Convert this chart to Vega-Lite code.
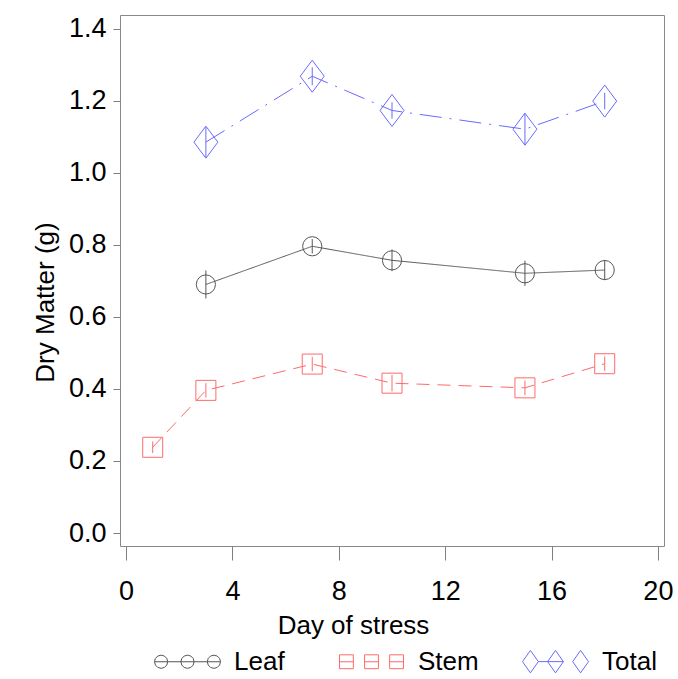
{
  "$schema": "https://vega.github.io/schema/vega-lite/v6.json",
  "width": 544,
  "height": 531,
  "autosize": "none",
  "padding": {"left": 120, "top": 15, "right": 14, "bottom": 133},
  "background": "white",
  "config": {
    "view": {"stroke": "#888888", "strokeWidth": 1},
    "font": "Liberation Sans",
    "axisY": {
      "domain": false,
      "grid": false,
      "tickSize": 7,
      "tickColor": "#808080",
      "labelFontSize": 27,
      "labelColor": "black",
      "labelPadding": 7,
      "titleFontSize": 26,
      "titleFontWeight": "normal",
      "titleColor": "black",
      "titleAngle": 270,
      "titleX": -67,
      "titleY": 287,
      "titleBaseline": "alphabetic",
      "titleAlign": "center"
    }
  },
  "data": {
    "values": [
      {"s": "Leaf", "day": 3, "dm": 0.690, "lo": 0.651, "hi": 0.729},
      {"s": "Leaf", "day": 7, "dm": 0.796, "lo": 0.776, "hi": 0.816},
      {"s": "Leaf", "day": 10, "dm": 0.757, "lo": 0.727, "hi": 0.787},
      {"s": "Leaf", "day": 15, "dm": 0.721, "lo": 0.686, "hi": 0.756},
      {"s": "Leaf", "day": 18, "dm": 0.730, "lo": 0.702, "hi": 0.758},
      {"s": "Stem", "day": 1, "dm": 0.238, "lo": 0.222, "hi": 0.254},
      {"s": "Stem", "day": 3, "dm": 0.396, "lo": 0.376, "hi": 0.416},
      {"s": "Stem", "day": 7, "dm": 0.469, "lo": 0.449, "hi": 0.489},
      {"s": "Stem", "day": 10, "dm": 0.416, "lo": 0.393, "hi": 0.439},
      {"s": "Stem", "day": 15, "dm": 0.403, "lo": 0.383, "hi": 0.423},
      {"s": "Stem", "day": 18, "dm": 0.470, "lo": 0.450, "hi": 0.490},
      {"s": "Total", "day": 3, "dm": 1.085, "lo": 1.043, "hi": 1.127},
      {"s": "Total", "day": 7, "dm": 1.268, "lo": 1.243, "hi": 1.293},
      {"s": "Total", "day": 10, "dm": 1.173, "lo": 1.150, "hi": 1.196},
      {"s": "Total", "day": 15, "dm": 1.121, "lo": 1.077, "hi": 1.165},
      {"s": "Total", "day": 18, "dm": 1.199, "lo": 1.176, "hi": 1.222}
    ]
  },
  "encoding": {
    "x": {
      "field": "day",
      "type": "quantitative",
      "scale": {"domain": [-0.23, 20.23], "nice": false, "zero": false},
      "axis": {
        "values": [0, 4, 8, 12, 16, 20],
        "title": "Day of stress",
        "domain": false,
        "grid": false,
        "tickSize": 14,
        "tickColor": "#808080",
        "labelFontSize": 27,
        "labelColor": "black",
        "labelPadding": 39,
        "labelBaseline": "alphabetic",
        "titleFontSize": 26,
        "titleFontWeight": "normal",
        "titleColor": "black",
        "titleX": 233,
        "titleY": 87,
        "titleBaseline": "alphabetic",
        "titleAlign": "center"
      }
    },
    "y": {
      "field": "dm",
      "type": "quantitative",
      "title": "Dry Matter (g)",
      "scale": {"domain": [-0.036, 1.438], "nice": false, "zero": false},
      "axis": {"values": [0, 0.2, 0.4, 0.6, 0.8, 1.0, 1.2, 1.4], "format": ".1f"}
    }
  },
  "resolve": {"scale": {"color": "independent", "shape": "independent"}},
  "layer": [
    {
      "mark": {"type": "rule", "strokeWidth": 1},
      "encoding": {
        "y": {"field": "lo", "type": "quantitative", "title": "Dry Matter (g)", "scale": {"domain": [-0.036, 1.438], "nice": false, "zero": false}, "axis": {"values": [0, 0.2, 0.4, 0.6, 0.8, 1.0, 1.2, 1.4], "format": ".1f"}},
        "y2": {"field": "hi"},
        "color": {"field": "s", "type": "nominal", "scale": {"domain": ["Leaf", "Stem", "Total"], "range": ["#555555", "#ff6a6a", "#6a6aff"]}, "legend": null}
      }
    },
    {
      "mark": {"type": "line", "strokeWidth": 1},
      "encoding": {
        "color": {"field": "s", "type": "nominal", "scale": {"domain": ["Leaf", "Stem", "Total"], "range": ["#555555", "#ff6a6a", "#6a6aff"]}, "legend": null},
        "strokeDash": {"field": "s", "type": "nominal", "scale": {"domain": ["Leaf", "Stem", "Total"], "range": [[1, 0], [13, 8], [22, 8, 2, 8]]}, "legend": null}
      }
    },
    {
      "mark": {"type": "point", "filled": false, "strokeWidth": 1, "opacity": 1, "size": 1024},
      "encoding": {
        "color": {"field": "s", "type": "nominal", "scale": {"domain": ["Leaf", "Stem", "Total"], "range": ["#555555", "#ff6a6a", "#6a6aff"]}, "legend": null},
        "shape": {"field": "s", "type": "nominal", "scale": {"domain": ["Leaf", "Stem", "Total"], "range": [
          "M0.6,0L0.554,0.23L0.424,0.424L0.23,0.554L0,0.6L-0.23,0.554L-0.424,0.424L-0.554,0.23L-0.6,0L-0.554,-0.23L-0.424,-0.424L-0.23,-0.554L0,-0.6L0.23,-0.554L0.424,-0.424L0.554,-0.23Z",
          "M-0.625,-0.625L0.625,-0.625L0.625,0.625L-0.625,0.625Z",
          "M0,-1L0.75,0L0,1L-0.75,0Z"
        ]}, "legend": null}
      }
    },
    {
      "mark": {"type": "point", "filled": false, "strokeWidth": 1, "opacity": 0},
      "encoding": {
        "color": {"field": "s", "type": "nominal", "title": null, "scale": {"domain": ["Leaf", "Stem", "Total"], "range": ["#555555", "#ff6a6a", "#6a6aff"]},
          "legend": {"orient": "none", "legendX": 34, "legendY": 613, "direction": "horizontal", "columns": 3, "gridAlign": "all", "columnPadding": 41, "title": null, "symbolSize": 4356, "symbolStrokeWidth": 1, "symbolOpacity": 1, "labelFontSize": 26, "labelFont": "Liberation Sans", "labelColor": "black", "labelOffset": 13, "padding": 0}},
        "shape": {"field": "s", "type": "nominal", "title": null, "scale": {"domain": ["Leaf", "Stem", "Total"], "range": [
          "M-1,0L1,0M-0.6,0L-0.627,0.1L-0.7,0.173L-0.8,0.2L-0.9,0.173L-0.973,0.1L-1,0L-0.973,-0.1L-0.9,-0.173L-0.8,-0.2L-0.7,-0.173L-0.627,-0.1ZM0.2,0L0.173,0.1L0.1,0.173L0,0.2L-0.1,0.173L-0.173,0.1L-0.2,0L-0.173,-0.1L-0.1,-0.173L0,-0.2L0.1,-0.173L0.173,-0.1ZM1,0L0.973,0.1L0.9,0.173L0.8,0.2L0.7,0.173L0.627,0.1L0.6,0L0.627,-0.1L0.7,-0.173L0.8,-0.2L0.9,-0.173L0.973,-0.1Z",
          "M-0.97,-0.21L-0.55,-0.21L-0.55,0.21L-0.97,0.21ZM-0.21,-0.21L0.21,-0.21L0.21,0.21L-0.21,0.21ZM0.55,-0.21L0.97,-0.21L0.97,0.21L0.55,0.21ZM-0.97,0L-0.55,0M-0.21,0L0.21,0M0.55,0L0.97,0",
          "M-1,0L-0.76,-0.34L-0.52,0L-0.76,0.34ZM-0.24,0L0,-0.34L0.24,0L0,0.34ZM0.52,0L0.76,-0.34L1,0L0.76,0.34ZM-0.52,0L0.24,0"
        ]},
          "legend": {"orient": "none", "legendX": 34, "legendY": 613, "direction": "horizontal", "columns": 3, "gridAlign": "all", "columnPadding": 41, "title": null, "symbolSize": 4356, "symbolStrokeWidth": 1, "symbolOpacity": 1, "labelFontSize": 26, "labelFont": "Liberation Sans", "labelColor": "black", "labelOffset": 13, "padding": 0}}
      }
    }
  ]
}
